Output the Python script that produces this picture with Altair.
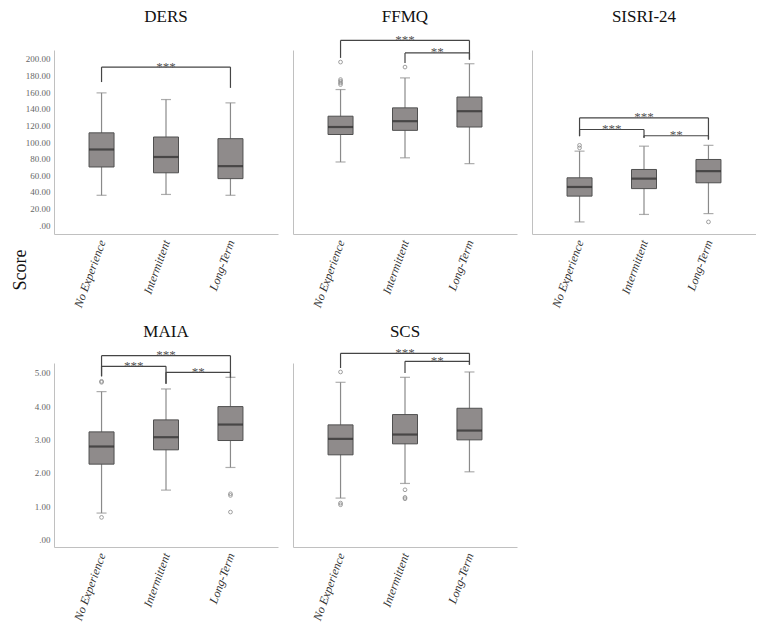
import json
import altair as alt
import pandas as pd

SERIF = "'Liberation Serif', 'Times New Roman', Times, serif"

GROUPS = ["No Experience", "Intermittent", "Long-Term"]
POS = [0, 1, 2]

# ---- DERS ----
DERS_LOW = [36, 37, 36]
DERS_Q1 = [70, 63, 56]
DERS_MED = [91, 82, 71]
DERS_Q3 = [111, 106, 104]
DERS_HIGH = [159, 151, 147]
DERS_OUT_POS = []
DERS_OUT_VAL = []
DERS_BR_FROM = [0]
DERS_BR_TO = [2]
DERS_BR_LEVEL = [190]
DERS_BR_LEFT = [172]
DERS_BR_RIGHT = [165]
DERS_BR_LABEL = ["***"]

# ---- FFMQ ----
FFMQ_LOW = [76, 81, 74]
FFMQ_Q1 = [109, 114, 118]
FFMQ_MED = [118, 125, 137]
FFMQ_Q3 = [131, 141, 154]
FFMQ_HIGH = [163, 177, 194]
FFMQ_OUT_POS = [0, 0, 0, 0, 0, 1]
FFMQ_OUT_VAL = [196, 175, 173, 171, 169, 190]
FFMQ_BR_FROM = [0, 1]
FFMQ_BR_TO = [2, 2]
FFMQ_BR_LEVEL = [222, 207]
FFMQ_BR_LEFT = [201, 195]
FFMQ_BR_RIGHT = [199, 199]
FFMQ_BR_LABEL = ["***", "**"]

# ---- SISRI-24 ----
SISRI_LOW = [4, 13, 14]
SISRI_Q1 = [35, 44, 51]
SISRI_MED = [46, 56, 65]
SISRI_Q3 = [57, 67, 79]
SISRI_HIGH = [89, 95, 96]
SISRI_OUT_POS = [0, 0, 2]
SISRI_OUT_VAL = [96, 93, 4]
SISRI_BR_FROM = [0, 0, 1]
SISRI_BR_TO = [2, 1, 2]
SISRI_BR_LEVEL = [129, 115, 107.5]
SISRI_BR_LEFT = [107, 107, 105]
SISRI_BR_RIGHT = [103, 105, 103]
SISRI_BR_LABEL = ["***", "***", "**"]

# ---- MAIA ----
MAIA_LOW = [0.79, 1.48, 2.16]
MAIA_Q1 = [2.26, 2.69, 2.97]
MAIA_MED = [2.79, 3.07, 3.45]
MAIA_Q3 = [3.23, 3.59, 3.99]
MAIA_HIGH = [4.44, 4.52, 4.87]
MAIA_OUT_POS = [0, 0, 0, 2, 2, 2]
MAIA_OUT_VAL = [4.75, 4.72, 0.66, 1.37, 1.32, 0.82]
MAIA_BR_FROM = [0, 0, 1]
MAIA_BR_TO = [2, 1, 2]
MAIA_BR_LEVEL = [5.52, 5.2, 5.02]
MAIA_BR_LEFT = [4.9, 4.9, 4.68]
MAIA_BR_RIGHT = [4.86, 4.68, 4.86]
MAIA_BR_LABEL = ["***", "***", "**"]

# ---- SCS ----
SCS_LOW = [1.24, 1.68, 2.03]
SCS_Q1 = [2.54, 2.87, 2.99]
SCS_MED = [3.02, 3.15, 3.27]
SCS_Q3 = [3.44, 3.75, 3.94]
SCS_HIGH = [4.72, 4.87, 5.03]
SCS_OUT_POS = [0, 0, 0, 1, 1, 1]
SCS_OUT_VAL = [5.03, 1.09, 1.04, 1.49, 1.26, 1.22]
SCS_BR_FROM = [0, 1]
SCS_BR_TO = [2, 2]
SCS_BR_LEVEL = [5.59, 5.35]
SCS_BR_LEFT = [5.15, 5.0]
SCS_BR_RIGHT = [5.25, 5.25]
SCS_BR_LABEL = ["***", "**"]

TOP_DOMAIN = [-10.5, 210.5]
TOP_TICKS = [0, 20, 40, 60, 80, 100, 120, 140, 160, 180, 200]
BOT_DOMAIN = [-0.23, 5.3]
BOT_TICKS = [0, 1, 2, 3, 4, 5]

BOX_FILL = "#8f8b8b"
BOX_STROKE = "#505050"
MED_COLOR = "#2a2a2a"
WHISK = "#8a8a8a"
BRACKET = "#454545"
STAR = "#555555"
AXIS = "#c0c0c0"

W = 224


def make_panel(title, low, q1, med, q3, high, out_pos, out_val,
               br_from, br_to, br_level, br_left, br_right, br_label,
               y_domain, y_ticks, labeled, height, title_y, score=False):
    box_df = pd.DataFrame({"pos": POS, "low": low, "q1": q1, "med": med,
                           "q3": q3, "high": high})
    out_df = pd.DataFrame({"pos": out_pos, "val": out_val})

    seg_x, seg_x2, seg_y, seg_y2 = [], [], [], []
    star_x, star_y, star_t = [], [], []
    for a, b, lv, l, r, t in zip(br_from, br_to, br_level, br_left, br_right, br_label):
        seg_x += [a, a, b]
        seg_x2 += [b, a, b]
        seg_y += [lv, l, r]
        seg_y2 += [lv, lv, lv]
        star_x.append((a + b) / 2)
        star_y.append(lv)
        star_t.append(t)
    seg_df = pd.DataFrame({"x": seg_x, "x2": seg_x2, "y": seg_y, "y2": seg_y2})
    star_df = pd.DataFrame({"x": star_x, "y": star_y, "t": star_t})

    xscale = alt.Scale(domain=[-0.66, 2.66], nice=False, zero=False)
    xaxis = alt.Axis(values=POS, labelExpr=json.dumps(GROUPS) + "[datum.value]",
                     title=None, grid=False, ticks=False, domainColor=AXIS,
                     labelAngle=290, labelAlign="right", labelBaseline="middle",
                     labelFont=SERIF, labelFontStyle="italic", labelFontSize=12,
                     labelColor="#333333", labelPadding=6, labelFlush=False,
                     labelOverlap=False)
    yscale = alt.Scale(domain=y_domain, nice=False, zero=False)
    if labeled:
        yaxis = alt.Axis(values=y_ticks, title=None, grid=False, ticks=False,
                         domainColor=AXIS, labelFont=SERIF, labelFontSize=9,
                         labelColor="#666666", labelPadding=4, labelFlush=False,
                         labelExpr="datum.value == 0 ? '.00' : format(datum.value, '.2f')",
                         minExtent=30, maxExtent=30)
    else:
        yaxis = alt.Axis(values=y_ticks, title=None, grid=False, ticks=False,
                         labels=False, domainColor=AXIS, minExtent=0, maxExtent=0)

    def X(field):
        return alt.X(field, scale=xscale, axis=xaxis)

    def Y(field):
        return alt.Y(field, scale=yscale, axis=yaxis)

    base = alt.Chart(box_df)
    whisk = base.mark_rule(color=WHISK, strokeWidth=1.2).encode(
        x=X("pos:Q"), y=Y("low:Q"), y2="high:Q")
    cap_lo = base.mark_tick(orient="horizontal", size=10, thickness=1.2, color=WHISK).encode(
        x=X("pos:Q"), y=Y("low:Q"))
    cap_hi = base.mark_tick(orient="horizontal", size=10, thickness=1.2, color=WHISK).encode(
        x=X("pos:Q"), y=Y("high:Q"))
    box = base.mark_bar(size=25, color=BOX_FILL, stroke=BOX_STROKE, strokeWidth=1).encode(
        x=X("pos:Q"), y=Y("q1:Q"), y2="q3:Q")
    median = base.mark_tick(orient="horizontal", size=25, thickness=2.2, color=MED_COLOR).encode(
        x=X("pos:Q"), y=Y("med:Q"))
    outl = alt.Chart(out_df).mark_point(shape="circle", filled=False, size=14,
                                        strokeWidth=1, color="#777777").encode(
        x=X("pos:Q"), y=Y("val:Q"))
    brk = alt.Chart(seg_df).mark_rule(color=BRACKET, strokeWidth=1.2).encode(
        x=X("x:Q"), x2="x2:Q", y=Y("y:Q"), y2="y2:Q")
    stars = alt.Chart(star_df).mark_text(font=SERIF, fontSize=13, color=STAR,
                                         baseline="alphabetic", dy=3.5).encode(
        x=X("x:Q"), y=Y("y:Q"), text="t:N")
    ttl = alt.Chart(pd.DataFrame({"t": [title]})).mark_text(
        font=SERIF, fontSize=17, color="#111111", baseline="alphabetic").encode(
        text="t:N", x=alt.value(W / 2), y=alt.value(title_y))

    layers = [whisk, cap_lo, cap_hi, box, median, outl, brk, stars, ttl]
    if score:
        sc = alt.Chart(pd.DataFrame({"t": ["Score"]})).mark_text(
            font=SERIF, fontSize=18, color="#111111", angle=270,
            baseline="middle", align="center").encode(
            text="t:N", x=alt.value(-33), y=alt.value(220))
        layers.append(sc)
    return alt.layer(*layers).properties(width=W, height=height)


H_TOP = 184
H_BOT = 184

p1 = make_panel("DERS", DERS_LOW, DERS_Q1, DERS_MED, DERS_Q3, DERS_HIGH,
                DERS_OUT_POS, DERS_OUT_VAL, DERS_BR_FROM, DERS_BR_TO, DERS_BR_LEVEL,
                DERS_BR_LEFT, DERS_BR_RIGHT, DERS_BR_LABEL,
                TOP_DOMAIN, TOP_TICKS, True, H_TOP, -28, score=True)
p2 = make_panel("FFMQ", FFMQ_LOW, FFMQ_Q1, FFMQ_MED, FFMQ_Q3, FFMQ_HIGH,
                FFMQ_OUT_POS, FFMQ_OUT_VAL, FFMQ_BR_FROM, FFMQ_BR_TO, FFMQ_BR_LEVEL,
                FFMQ_BR_LEFT, FFMQ_BR_RIGHT, FFMQ_BR_LABEL,
                TOP_DOMAIN, TOP_TICKS, False, H_TOP, -28)
p3 = make_panel("SISRI-24", SISRI_LOW, SISRI_Q1, SISRI_MED, SISRI_Q3, SISRI_HIGH,
                SISRI_OUT_POS, SISRI_OUT_VAL, SISRI_BR_FROM, SISRI_BR_TO, SISRI_BR_LEVEL,
                SISRI_BR_LEFT, SISRI_BR_RIGHT, SISRI_BR_LABEL,
                TOP_DOMAIN, TOP_TICKS, False, H_TOP, -28)
p4 = make_panel("MAIA", MAIA_LOW, MAIA_Q1, MAIA_MED, MAIA_Q3, MAIA_HIGH,
                MAIA_OUT_POS, MAIA_OUT_VAL, MAIA_BR_FROM, MAIA_BR_TO, MAIA_BR_LEVEL,
                MAIA_BR_LEFT, MAIA_BR_RIGHT, MAIA_BR_LABEL,
                BOT_DOMAIN, BOT_TICKS, True, H_BOT, -26)
p5 = make_panel("SCS", SCS_LOW, SCS_Q1, SCS_MED, SCS_Q3, SCS_HIGH,
                SCS_OUT_POS, SCS_OUT_VAL, SCS_BR_FROM, SCS_BR_TO, SCS_BR_LEVEL,
                SCS_BR_LEFT, SCS_BR_RIGHT, SCS_BR_LABEL,
                BOT_DOMAIN, BOT_TICKS, False, H_BOT, -26)

chart = alt.concat(p1, p2, p3, p4, p5, columns=3,
                   spacing={"row": 14, "column": 15}, align="each").properties(
    padding={"left": 4, "top": 0, "right": 0, "bottom": 0}, background="white"
).configure(font=SERIF).configure_view(strokeWidth=0, stroke="transparent")

chart.save("out.html", embed_options={"renderer": "svg", "actions": False})
